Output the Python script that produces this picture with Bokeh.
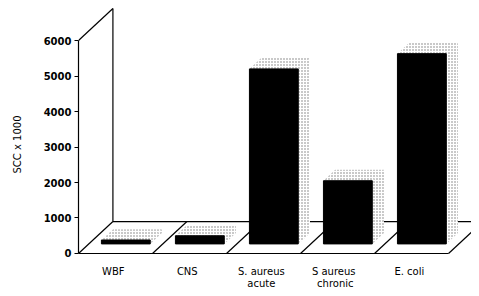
from bokeh.plotting import figure
from bokeh.models import Range1d, FixedTicker
from bokeh.core.properties import value
from bokeh.embed import file_html
from bokeh.resources import INLINE

categories = ["WBF", "CNS", "S. aureus acute", "S aureus chronic", "E. coli"]
label_line1 = ["WBF", "CNS", "S. aureus", "S  aureus", "E. coli"]
label_line2 = ["", "", "acute", "chronic", ""]
scc = [110, 230, 4930, 1780, 5360]
y_ticks = [0, 1000, 2000, 3000, 4000, 5000, 6000]

# 3-D projection parameters (depth offset in category / value units)
DX = 0.465
DY = 900
F0, F1 = 0.30, 0.64
HW = 0.33
n = len(categories)
ymax = y_ticks[-1]

p = figure(width=471, height=288, output_backend="svg", toolbar_location=None,
           x_range=Range1d(0, 5.31), y_range=Range1d(-986, 7127),
           x_axis_location=None, min_border_left=78, min_border_right=0,
           min_border_top=0, min_border_bottom=0)
p.outline_line_color = None
p.grid.visible = False
p.background_fill_color = "white"

# floor
p.patch([0, n, n + DX, DX], [0, 0, DY, DY], fill_color="white", line_color=None)
xs, ys = [], []
xs.append([0, n]); ys.append([0, 0])
xs.append([DX, n + DX]); ys.append([DY, DY])
for k in range(0, n + 1):
    xs.append([k, k + DX]); ys.append([0, DY])
# left wall edges
xs.append([DX, DX]); ys.append([DY, DY + ymax])
xs.append([0, DX]); ys.append([ymax, ymax + DY])
p.multi_line(xs, ys, line_color="black", line_width=1.2)

# bars
centers = [i + 0.5 for i in range(n)]
left = [c - HW + F0 * DX for c in centers]
right = [c + HW + F0 * DX for c in centers]
bottom = [F0 * DY] * n
top = [F0 * DY + v for v in scc]

top_x, top_y, side_x, side_y = [], [], [], []
for c, v in zip(centers, scc):
    l0, r0 = c - HW + F0 * DX, c + HW + F0 * DX
    l1, r1 = c - HW + F1 * DX, c + HW + F1 * DX
    top_x.append([l0, r0, r1, l1]); top_y.append([F0 * DY + v, F0 * DY + v, F1 * DY + v, F1 * DY + v])
    side_x.append([r0, r1, r1, r0]); side_y.append([F0 * DY, F1 * DY, F1 * DY + v, F0 * DY + v])

p.patches(side_x + top_x, side_y + top_y, fill_color="white", line_color=None,
          hatch_pattern="dot", hatch_scale=3, hatch_color="#777777", hatch_weight=1)
p.quad(left=left, right=right, bottom=bottom, top=top, fill_color="black", line_color="black")

# category labels
lx = [c - 0.03 for c in centers]
p.text(lx, [-507] * n, text=label_line1, text_align="center", text_baseline="middle",
       text_font=value("DejaVu Sans"), text_font_size="10px", text_color="black")
p.text(lx, [-850] * n, text=label_line2, text_align="center", text_baseline="middle",
       text_font=value("DejaVu Sans"), text_font_size="10px", text_color="black")

# y axis
ax = p.yaxis[0]
ax.ticker = FixedTicker(ticks=y_ticks)
ax.bounds = (0, ymax)
ax.axis_line_width = 1.2
ax.major_tick_in = 0
ax.major_tick_out = 4
ax.minor_tick_line_color = None
ax.major_label_standoff = 3
ax.major_label_text_font = "DejaVu Sans"
ax.major_label_text_font_style = "bold"
ax.major_label_text_font_size = "10px"
ax.major_label_text_color = "black"
ax.axis_label = "SCC x 1000"
ax.axis_label_text_font = "DejaVu Sans"
ax.axis_label_text_font_style = "normal"
ax.axis_label_text_font_size = "10px"
ax.axis_label_text_color = "black"
ax.axis_label_standoff = 18

open("out.html", "w").write(file_html(p, INLINE))
